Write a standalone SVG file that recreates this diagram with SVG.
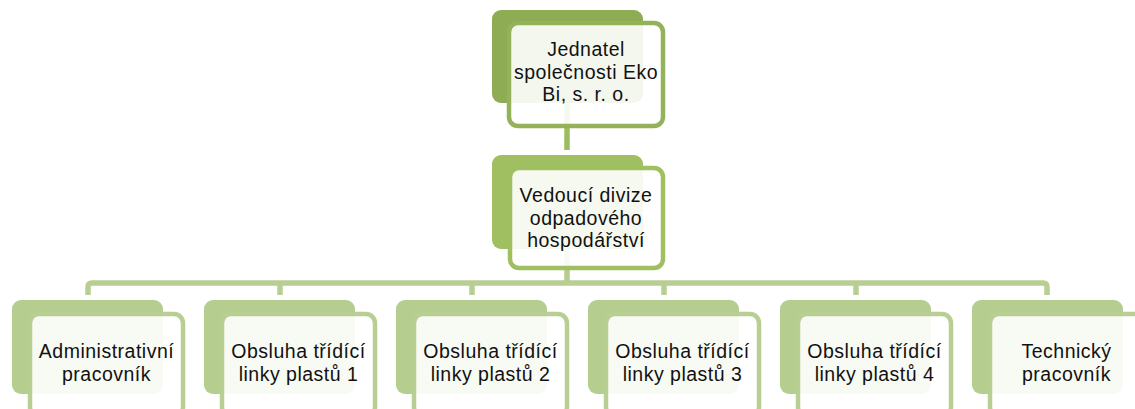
<svg xmlns="http://www.w3.org/2000/svg" width="1135" height="409" viewBox="0 0 1135 409">
<style>
.t{font-family:"Liberation Sans",Arial,sans-serif;font-size:19.5px;letter-spacing:0.5px;fill:#111;text-anchor:middle}
.front{fill:#fff;fill-opacity:0.9;stroke-width:4.5}
.l1{fill:#8eac53}
.s1{stroke:#93b25a}
.l2{fill:#9fbf60}
.s2{stroke:#9fbf60}
.l3{fill:#b6cd90}
.s3{stroke:#b8ce93}
.c{fill:none;stroke-width:5.5;stroke-linejoin:round}
</style>
<rect width="1135" height="409" fill="#fff"/>
<g id="connectors">
<line class="c" x1="567" y1="100" x2="567" y2="150" stroke="#9dbc5e"/>
<line class="c" x1="567" y1="245" x2="567" y2="283" stroke="#b6cd90"/>
<path class="c" stroke="#b8ce93" d="M88 295 V287 Q88 283 92 283 H1043 Q1047 283 1047 287 V295 M280 283 V295 M472 283 V295 M664 283 V295 M856 283 V295"/>
</g>
<g id="n0">
<rect class="l1" x="492" y="10" width="151" height="93" rx="9"/>
<rect class="front s1" x="509" y="23" width="154" height="103" rx="9"/>
<text class="t" x="586" y="56">Jednatel</text>
<text class="t" x="586" y="79">společnosti Eko</text>
<text class="t" x="586" y="101">Bi, s. r. o.</text>
</g>
<g id="n1">
<rect class="l2" x="492" y="155" width="151" height="94" rx="9"/>
<rect class="front s2" x="510" y="168" width="153" height="100" rx="9"/>
<text class="t" x="586" y="202">Vedoucí divize</text>
<text class="t" x="586" y="225">odpadového</text>
<text class="t" x="586" y="247">hospodářství</text>
</g>
<g id="n2">
<rect class="l3" x="12" y="300" width="151" height="94" rx="9"/>
<rect class="front s3" x="30" y="314" width="153" height="102" rx="9"/>
<text class="t" x="106.5" y="358">Administrativní</text>
<text class="t" x="106.5" y="381">pracovník</text>
</g>
<g id="n3">
<rect class="l3" x="204" y="300" width="151" height="94" rx="9"/>
<rect class="front s3" x="222" y="314" width="153" height="102" rx="9"/>
<text class="t" x="298.5" y="358">Obsluha třídící</text>
<text class="t" x="298.5" y="381">linky plastů 1</text>
</g>
<g id="n4">
<rect class="l3" x="396" y="300" width="151" height="94" rx="9"/>
<rect class="front s3" x="414" y="314" width="153" height="102" rx="9"/>
<text class="t" x="490.5" y="358">Obsluha třídící</text>
<text class="t" x="490.5" y="381">linky plastů 2</text>
</g>
<g id="n5">
<rect class="l3" x="588" y="300" width="151" height="94" rx="9"/>
<rect class="front s3" x="606" y="314" width="153" height="102" rx="9"/>
<text class="t" x="682.5" y="358">Obsluha třídící</text>
<text class="t" x="682.5" y="381">linky plastů 3</text>
</g>
<g id="n6">
<rect class="l3" x="780" y="300" width="151" height="94" rx="9"/>
<rect class="front s3" x="798" y="314" width="153" height="102" rx="9"/>
<text class="t" x="874.5" y="358">Obsluha třídící</text>
<text class="t" x="874.5" y="381">linky plastů 4</text>
</g>
<g id="n7">
<rect class="l3" x="972" y="300" width="151" height="94" rx="9"/>
<rect class="front s3" x="990" y="314" width="153" height="102" rx="9"/>
<text class="t" x="1066.5" y="358">Technický</text>
<text class="t" x="1066.5" y="381">pracovník</text>
</g>
</svg>
